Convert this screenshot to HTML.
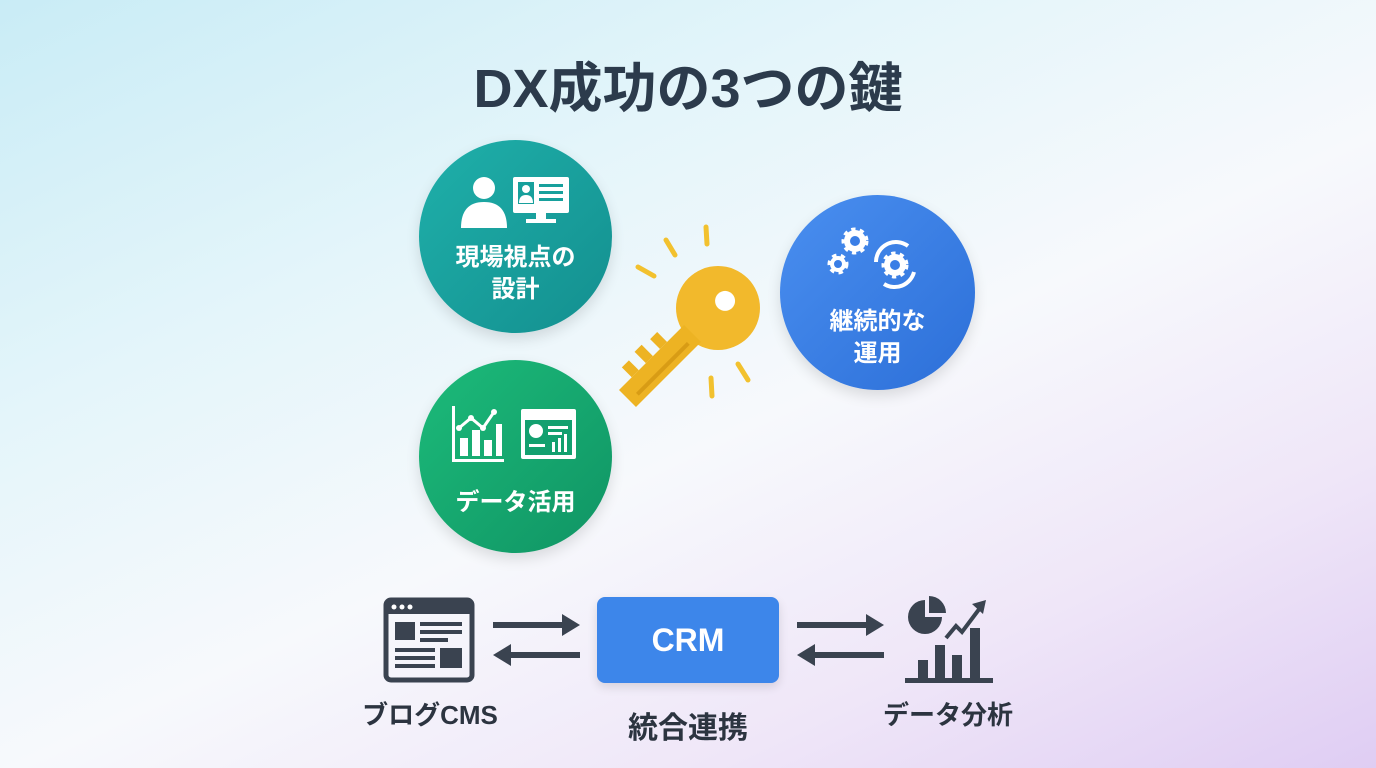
<!DOCTYPE html>
<html><head><meta charset="utf-8"><style>
body{margin:0;width:1376px;height:768px;overflow:hidden;font-family:"Liberation Sans","Noto Sans CJK JP",sans-serif;
background:linear-gradient(155deg,#c9ecf6 0%,#e4f5fa 30%,#f7f9fc 55%,#efe6f8 78%,#dfcdf3 100%);position:relative}
.t{position:absolute;text-align:center;font-weight:bold}
.c{position:absolute;border-radius:50%;overflow:hidden;box-shadow:0 6px 14px rgba(0,0,0,.12)}
</style></head><body>
<div class="t" style="left:0;width:1376px;top:44px;font-size:54px;color:#2c3b4c">DX成功の3つの鍵</div>

<div class="c" style="left:419px;top:140px;width:193px;height:193px;background:linear-gradient(135deg,#1fb0aa,#138f8f)"></div>
<div class="c" style="left:419px;top:360px;width:193px;height:193px;background:linear-gradient(135deg,#1cbb7a,#109464)"></div>
<div class="c" style="left:780px;top:195px;width:195px;height:195px;background:linear-gradient(135deg,#4a8ff0,#2c6fd8)"></div>

<svg width="1376" height="768" style="position:absolute;left:0;top:0">
<g fill="#fff">
<circle cx="484" cy="188" r="11"/><path d="M461 228 q0-26 23-26 q23 0 23 26z"/>
<rect x="513" y="177" width="56" height="36" rx="2"/><rect x="536" y="213" width="10" height="7"/><rect x="526" y="219" width="30" height="4"/>
</g>
<g fill="#17a09c"><rect x="518" y="182" width="16" height="22"/><rect x="539" y="184" width="24" height="3"/><rect x="539" y="191" width="24" height="3"/><rect x="539" y="198" width="24" height="3"/></g>
<g fill="#fff"><circle cx="526" cy="189" r="4"/><path d="M519 203 q0-8 7-8 q7 0 7 8z"/></g>
<g fill="#fff"><rect x="452" y="406" width="3" height="56"/><rect x="452" y="459" width="52" height="3"/>
<rect x="460" y="438" width="8" height="18"/><rect x="472" y="430" width="8" height="26"/><rect x="484" y="440" width="8" height="16"/><rect x="496" y="424" width="6" height="32"/></g>
<polyline points="459,428 471,418 483,428 494,412" stroke="#fff" stroke-width="3" fill="none"/>
<g fill="#fff"><circle cx="459" cy="428" r="3"/><circle cx="471" cy="418" r="3"/><circle cx="483" cy="428" r="3"/><circle cx="494" cy="412" r="3"/>
<rect x="521" y="409" width="55" height="50" rx="2"/></g>
<g fill="#13a06f"><rect x="525" y="420" width="47" height="35"/></g>
<g fill="#fff"><circle cx="536" cy="431" r="7"/><rect x="548" y="426" width="20" height="3"/><rect x="548" y="432" width="14" height="3"/><rect x="529" y="444" width="16" height="3"/><rect x="552" y="442" width="3" height="10"/><rect x="558" y="438" width="3" height="14"/><rect x="564" y="434" width="3" height="18"/></g>
<g fill="#fff" stroke="#fff" stroke-width="5" stroke-dasharray="4 4">
<circle cx="855" cy="241" r="11"/><circle cx="838" cy="264" r="8"/><circle cx="895" cy="265" r="11"/>
</g>
<g fill="#3a7ee6"><circle cx="855" cy="241" r="5"/><circle cx="838" cy="264" r="4"/><circle cx="895" cy="265" r="5"/></g>
<g stroke="#fff" stroke-width="4" fill="none"><path d="M876 262 a20 20 0 0 1 32 -16"/><path d="M914 272 a20 20 0 0 1 -30 12"/></g>
<!-- key -->
<g transform="translate(718,308) rotate(45)">
<circle cx="0" cy="0" r="42" fill="#f2b92c"/><circle cx="0" cy="-10" r="10" fill="#fff"/>
<path d="M-12 36 h24 v92 h-24z" fill="#edb323"/>
<rect x="-26" y="60" width="14" height="10" fill="#edb323"/><rect x="-28" y="80" width="16" height="10" fill="#edb323"/><rect x="-26" y="100" width="14" height="10" fill="#edb323"/>
<rect x="2" y="46" width="4" height="72" fill="#d89c15"/>
</g>
<g stroke="#f2c12e" stroke-width="5" stroke-linecap="round">
<line x1="706" y1="227" x2="707" y2="244"/><line x1="666" y1="240" x2="675" y2="255"/><line x1="638" y1="267" x2="654" y2="276"/>
<line x1="711" y1="378" x2="712" y2="396"/><line x1="738" y1="364" x2="748" y2="380"/>
</g>
<rect x="386" y="600" width="86" height="80" rx="5" fill="none" stroke="#3a4350" stroke-width="5"/>
<rect x="386" y="600" width="86" height="14" fill="#3a4350"/>
<g fill="#fff"><circle cx="394" cy="607" r="2.5"/><circle cx="402" cy="607" r="2.5"/><circle cx="410" cy="607" r="2.5"/></g>
<g fill="#3a4350"><rect x="395" y="622" width="20" height="18"/><rect x="420" y="622" width="42" height="4"/><rect x="420" y="630" width="42" height="4"/><rect x="420" y="638" width="28" height="4"/>
<rect x="395" y="648" width="40" height="4"/><rect x="395" y="656" width="40" height="4"/><rect x="395" y="664" width="40" height="4"/><rect x="440" y="648" width="22" height="20"/></g>
<g fill="#3a4350">
<rect x="493" y="622" width="72" height="6"/><polygon points="562,614 580,625 562,636"/>
<rect x="510" y="652" width="70" height="6"/><polygon points="511,644 493,655 511,666"/>
<rect x="797" y="622" width="72" height="6"/><polygon points="866,614 884,625 866,636"/>
<rect x="814" y="652" width="70" height="6"/><polygon points="815,644 797,655 815,666"/>
</g>
<g fill="#3a4350">
<path d="M925 600 a17 17 0 1 0 17 17 h-17z"/><path d="M929 596 a17 17 0 0 1 17 17 h-17z"/>
<rect x="905" y="678" width="88" height="5"/><rect x="918" y="660" width="10" height="18"/><rect x="935" y="645" width="10" height="33"/><rect x="952" y="655" width="10" height="23"/><rect x="970" y="628" width="10" height="50"/>
</g>
<polyline points="946,638 956,626 962,632 980,608" stroke="#3a4350" stroke-width="4" fill="none"/>
<polygon points="972,604 986,600 983,614" fill="#3a4350"/>
</svg>

<div class="t" style="left:419px;width:193px;top:242px;font-size:24px;line-height:32px;color:#fff">現場視点の<br>設計</div>
<div class="t" style="left:419px;width:193px;top:482px;font-size:24px;color:#fff">データ活用</div>
<div class="t" style="left:780px;width:195px;top:306px;font-size:24px;line-height:32px;color:#fff">継続的な<br>運用</div>

<div style="position:absolute;left:597px;top:597px;width:182px;height:86px;border-radius:8px;background:#3d86ea;box-shadow:0 4px 10px rgba(0,0,0,.12);color:#fff;font-weight:bold;font-size:32px;line-height:86px;text-align:center">CRM</div>
<div class="t" style="left:340px;width:180px;top:695px;font-size:26px;color:#2c3440">ブログCMS</div>
<div class="t" style="left:588px;width:200px;top:703px;font-size:30px;color:#2c3440">統合連携</div>
<div class="t" style="left:858px;width:180px;top:695px;font-size:26px;color:#2c3440">データ分析</div>
</body></html>
